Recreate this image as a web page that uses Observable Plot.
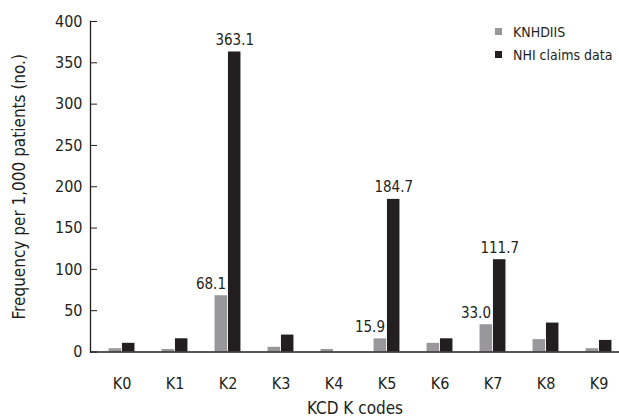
<!DOCTYPE html>
<html><head><meta charset="utf-8">
<script src="https://cdn.jsdelivr.net/npm/d3@7"></script>
<script src="https://cdn.jsdelivr.net/npm/@observablehq/plot@0.6"></script>
<style>
body{margin:0;background:#fff;}
#chart{position:relative;width:619px;height:420px;}
#legend{position:absolute;left:495px;top:20px;white-space:nowrap;}
#legend > div{margin:0 !important;}
#legend svg{margin-right:11px !important;}
#legend [class$="-swatch"]{height:23px;padding:0 !important;}
</style></head><body><div id="chart"><div id="legend"></div></div>
<script>
const codes = ["K0","K1","K2","K3","K4","K5","K6","K7","K8","K9"];
const seriesNames = ["KNHDIIS","NHI claims data"];
const knhdiis = [4, 3, 68.1, 5.7, 3, 15.9, 10.5, 33.0, 15, 4];
const nhi = [10.5, 16, 363.1, 20.5, 0, 184.7, 16, 111.7, 35, 14];
const knhdiisLabels = [null, null, "68.1", null, null, "15.9", null, "33.0", null, null];
const nhiLabels = [null, null, "363.1", null, null, "184.7", null, "111.7", null, null];
const yTicks = [0, 50, 100, 150, 200, 250, 300, 350, 400];
const xTitle = "KCD K codes";
const yTitle = "Frequency per 1,000 patients (no.)";

const colors = ["#98989a", "#231f20"];
const FONT = '"Liberation Sans Narrow","DejaVu Sans Condensed",sans-serif';
const ink = "#231f20";

const rowsA = codes.map((c, i) => ({code: c, value: knhdiis[i], label: knhdiisLabels[i]}));
const rowsB = codes.map((c, i) => ({code: c, value: nhi[i], label: nhiLabels[i]}));

const W = 619, H = 420, ML = 90, MT = 21, MB = 68.5;
const xRange = [ML, 629];
const bw = (xRange[1] - xRange[0]) / codes.length;
const barW = 13.4;

const plot = Plot.plot({
  width: W, height: H,
  marginLeft: ML, marginRight: 0, marginTop: MT, marginBottom: MB,
  style: {fontFamily: FONT, fontSize: "16px", color: ink, background: "transparent"},
  x: {domain: codes, range: xRange, padding: 0},
  y: {domain: [0, 400]},
  marks: [
    Plot.barY(rowsA, {x: "code", y: "value", fill: colors[0], insetLeft: bw / 2 - barW, insetRight: bw / 2}),
    Plot.barY(rowsB, {x: "code", y: "value", fill: colors[1], insetLeft: bw / 2, insetRight: bw / 2 - barW}),
    Plot.ruleY([0], {stroke: ink, strokeWidth: 1.3}),
    Plot.frame({anchor: "left", stroke: ink, strokeWidth: 1.3}),
    Plot.axisY({ticks: yTicks, tickSize: 0, tickPadding: 8, label: null, fontSize: 16}),
    Plot.axisY({ticks: yTicks, tickSize: 7, dx: 7, fill: "none", label: null, stroke: ink}),
    Plot.axisX({tickSize: 0, tickPadding: 26, label: null, fontSize: 16}),
    Plot.text([xTitle], {frameAnchor: "bottom", dy: 57, lineAnchor: "middle", fontSize: 17, fill: ink}),
    Plot.text([yTitle], {frameAnchor: "left", rotate: -90, dx: -71, textAnchor: "middle", lineAnchor: "middle", fontSize: 17, fill: ink}),
    Plot.text(rowsA.filter(d => d.label), {x: "code", y: "value", text: "label", textAnchor: "end", dx: -2, dy: -7, lineAnchor: "bottom", fontSize: 15, fill: ink}),
    Plot.text(rowsB.filter(d => d.label), {x: "code", y: "value", text: "label", dx: barW / 2, dy: -7, lineAnchor: "bottom", fontSize: 15, fill: ink})
  ]
});
document.getElementById("chart").prepend(plot);

const legend = Plot.legend({
  color: {domain: seriesNames, range: colors},
  columns: 1, swatchSize: 7,
  style: {fontFamily: FONT, fontSize: "14px", color: ink}
});
document.getElementById("legend").appendChild(legend);
</script>
</body></html>
